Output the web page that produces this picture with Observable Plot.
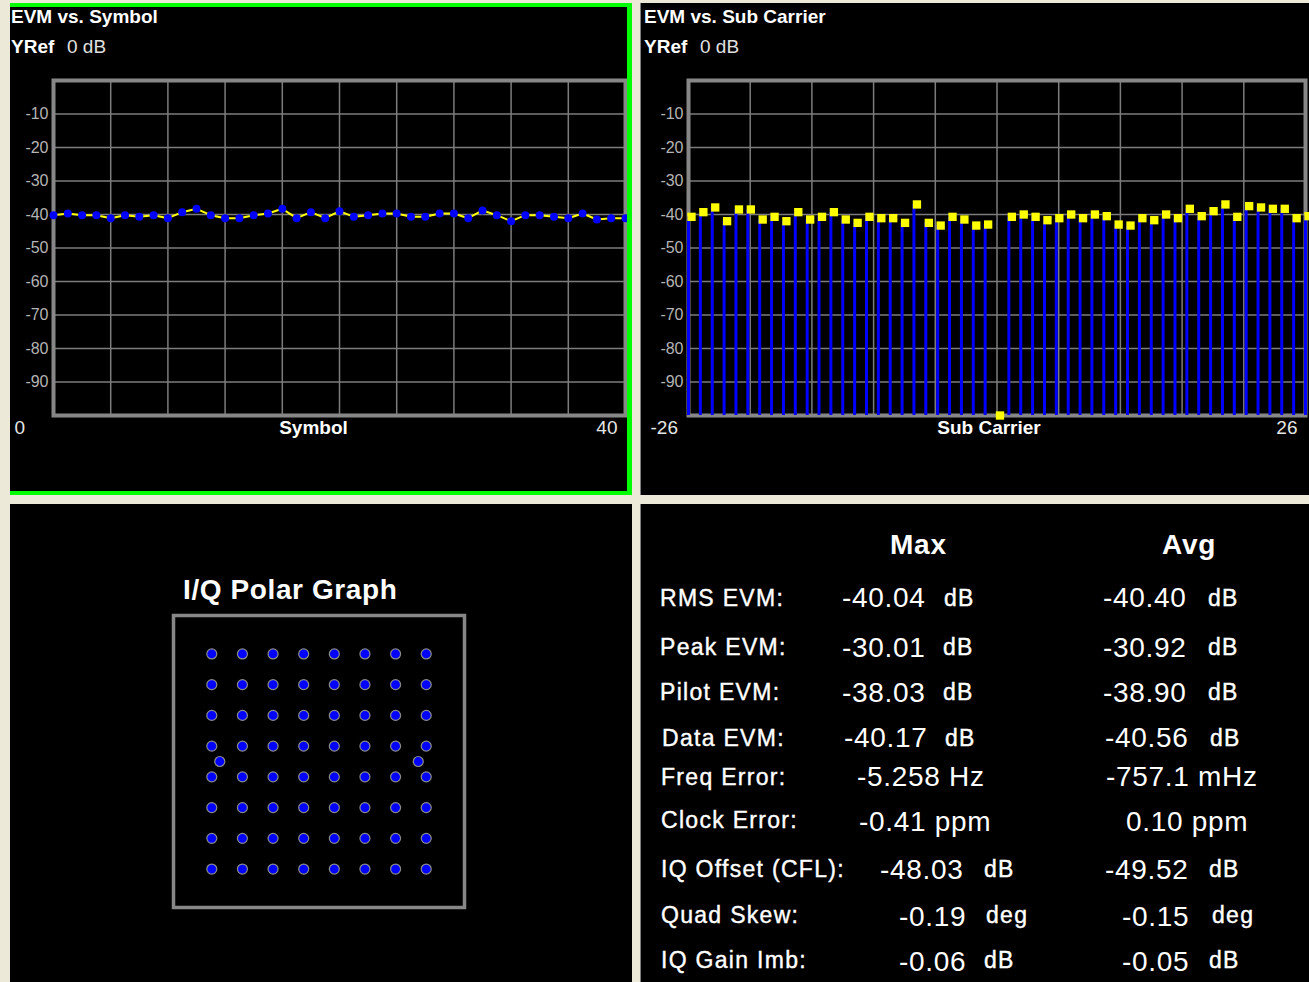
<!DOCTYPE html>
<html><head><meta charset="utf-8">
<script src="https://cdn.jsdelivr.net/npm/d3@7"></script>
<script src="https://cdn.jsdelivr.net/npm/@observablehq/plot@0.6"></script>
<style>
html,body{margin:0;padding:0;background:#ece9d8;width:1309px;height:982px;overflow:hidden;font-family:"Liberation Sans",Arial,sans-serif;}
.panel{position:absolute;background:#000;box-sizing:border-box;}
.abs{position:absolute;white-space:nowrap;color:#fff;}
.chart{position:absolute;}
.chart svg{display:block;}
</style></head><body>
<script>
// ---------- DATA ----------
const symbolIdx = [0,1,2,3,4,5,6,7,8,9,10,11,12,13,14,15,16,17,18,19,20,21,22,23,24,25,26,27,28,29,30,31,32,33,34,35,36,37,38,39,40];
const symbolEvm = [-40.2,-39.7,-40.2,-40.2,-41.1,-40.2,-40.7,-40.2,-41.1,-39.3,-38.3,-40.2,-41.1,-41.1,-40.2,-39.7,-38.3,-41.1,-39.3,-41.1,-39.0,-40.7,-40.2,-39.7,-39.7,-40.7,-40.7,-39.7,-39.7,-41.1,-38.8,-40.2,-42.0,-40.2,-40.2,-40.7,-41.1,-39.7,-41.5,-41.1,-41.1];

const subCarriers = [-26,-25,-24,-23,-22,-21,-20,-19,-18,-17,-16,-15,-14,-13,-12,-11,-10,-9,-8,-7,-6,-5,-4,-3,-2,-1,0,1,2,3,4,5,6,7,8,9,10,11,12,13,14,15,16,17,18,19,20,21,22,23,24,25,26];
const subCarrierEvm = [-40.7,-39.3,-37.9,-42.0,-38.5,-38.5,-41.5,-40.7,-42.0,-39.3,-41.5,-40.7,-39.3,-41.5,-42.5,-40.7,-41.1,-41.1,-42.5,-37.0,-42.5,-43.3,-40.7,-41.5,-43.3,-43.0,
  -100,
  -40.7,-40.0,-40.7,-41.7,-41.1,-40.0,-41.1,-40.0,-40.5,-43.0,-43.3,-41.1,-41.7,-40.0,-41.1,-38.3,-40.5,-39.0,-37.0,-40.7,-37.5,-37.9,-38.3,-38.3,-41.1,-40.5];

const yTicks = [-10,-20,-30,-40,-50,-60,-70,-80,-90];
const symbolGrid = [0,4,8,12,16,20,24,28,32,36,40];
const subGrid = [-26,-20.8,-15.6,-10.4,-5.2,0,5.2,10.4,15.6,20.8,26];

const iqLevels = [-7,-5,-3,-1,1,3,5,7];
const pilotI = [-6.48, 6.48];
const pilotQ = [0, 0];

const tableHeaders = ["Max", "Avg"];
const rowLabels = ["RMS EVM:","Peak EVM:","Pilot EVM:","Data EVM:","Freq Error:","Clock Error:","IQ Offset (CFL):","Quad Skew:","IQ Gain Imb:"];
const maxValues = ["-40.04","-30.01","-38.03","-40.17","-5.258 Hz","-0.41 ppm","-48.03","-0.19","-0.06"];
const maxUnits  = ["dB","dB","dB","dB","","","dB","deg","dB"];
const avgValues = ["-40.40","-30.92","-38.90","-40.56","-757.1 mHz","0.10 ppm","-49.52","-0.15","-0.05"];
const avgUnits  = ["dB","dB","dB","dB","","","dB","deg","dB"];

// ---------- LAYOUT (page px) ----------
const labelBase = [606,655,700,746,785,828,877,923,968];
const valueBase = [608,658,703,748,787,832,880,927,972];
const labelX    = [660,660,660,662,661,661,661,661,661];
const maxValX   = [842,842,842,844,857,859,880,899,899];
const maxUnitX  = [944,943,943,945,0,0,984,986,984];
const avgValX   = [1103,1103,1103,1105,1106,1126,1105,1122,1122];
const avgUnitX  = [1208,1208,1208,1210,0,0,1209,1212,1209];

const FONT = '"Liberation Sans", Arial, sans-serif';
const body = document.body;

function box(cls, css, text) {
  const d = document.createElement("div");
  d.className = cls;
  Object.assign(d.style, css);
  if (text != null) d.textContent = text;
  body.appendChild(d);
  return d;
}
// text placed by baseline (line-height = font-size)
function txt(str, x, base, size, css = {}) {
  const top = base - size * 0.8465;
  return box("abs", Object.assign({left: x + "px", top: top + "px", fontSize: size + "px", lineHeight: size + "px"}, css), str);
}

// panels
box("panel", {left:"10px", top:"3px", width:"622px", height:"492px"});
box("panel", {left:"640px", top:"3px", width:"669px", height:"492px", borderLeft:"1px solid #808080"});
box("panel", {left:"10px", top:"504px", width:"622px", height:"478px"});
box("panel", {left:"640px", top:"504px", width:"669px", height:"478px", borderLeft:"1px solid #808080"});

// EVM plot factory (SVG starts at page y = 60, frame top at y = 80)
function evmPlot({width, marginLeft, marginRight, xDomain, grid, marks, leftLabel, rightLabel, axisLabel, leftDx, rightDx, labelDx}) {
  return Plot.plot({
    width, height: 383,
    marginTop: 20, marginBottom: 28, marginLeft, marginRight,
    style: {background: "transparent", fontFamily: FONT, overflow: "visible"},
    x: {domain: xDomain, axis: null},
    y: {domain: [-100, 0], axis: null},
    marks: [
      Plot.gridX(grid, {stroke: "#7c7c7c", strokeOpacity: 1, strokeWidth: 1.5}),
      Plot.gridY(yTicks, {stroke: "#7c7c7c", strokeOpacity: 1, strokeWidth: 1.5}),
      Plot.axisY(yTicks, {tickSize: 0, tickPadding: 5, fill: "#b4b4b4", fontSize: 16, label: null, tickFormat: d => String(d)}),
      Plot.frame({stroke: "#878787", strokeWidth: 4}),
      ...marks,
      Plot.text([leftLabel], {text: d => d, frameAnchor: "bottom-left", textAnchor: "start", dx: leftDx, dy: 18, fill: "#e6e6e6", fontSize: 19}),
      Plot.text([rightLabel], {text: d => d, frameAnchor: "bottom-right", textAnchor: "end", dx: rightDx, dy: 18, fill: "#e6e6e6", fontSize: 19}),
      Plot.text([axisLabel], {text: d => d, frameAnchor: "bottom", dx: labelDx, dy: 18, fill: "#ffffff", fontSize: 19, fontWeight: "bold"})
    ]
  });
}

const symbolData = symbolIdx.map((s, i) => ({s, v: symbolEvm[i]}));
const subData = subCarriers.map((c, i) => ({c, v: subCarrierEvm[i]}));

const p1 = evmPlot({
  width: 622, marginLeft: 43, marginRight: 7, xDomain: [0, 40], grid: symbolGrid,
  marks: [
    Plot.line(symbolData, {x: "s", y: "v", stroke: "#ffff00", strokeWidth: 2}),
    Plot.dot(symbolData, {x: "s", y: "v", r: 4, fill: "#0000ff"})
  ],
  leftLabel: "0", rightLabel: "40", axisLabel: "Symbol", leftDx: -39, rightDx: -8, labelDx: -26
});
const c1 = box("chart", {left: "10px", top: "60px"});
c1.appendChild(p1);

const p2 = evmPlot({
  width: 668, marginLeft: 47, marginRight: 4, xDomain: [-26, 26], grid: subGrid,
  marks: [
    Plot.ruleX(subData, {x: "c", y1: -100, y2: "v", stroke: "#0000ff", strokeWidth: 3}),
    Plot.dot(subData, {x: "c", y: "v", symbol: "square", r: 4.7, fill: "#ffff00", dx: 3})
  ],
  leftLabel: "-26", rightLabel: "26", axisLabel: "Sub Carrier", leftDx: -38, rightDx: -8, labelDx: -8
});
const c2 = box("chart", {left: "641px", top: "60px"});
c2.appendChild(p2);

// green selection border (top-left panel)
box("panel", {left:"10px", top:"3px", width:"622px", height:"492px", background:"transparent",
  borderTop:"4px solid #00ff00", borderRight:"5px solid #00ff00", borderBottom:"4px solid #00ff00"});

// titles
for (const [x, t] of [[11, "EVM vs. Symbol"], [644, "EVM vs. Sub Carrier"]]) {
  txt(t, x, 23, 19, {fontWeight: "bold"});
  txt("YRef", x, 53, 19, {fontWeight: "bold"});
  txt("0 dB", x + 56, 53, 19, {color: "#e0e0e0"});
}

// I/Q polar graph
txt("I/Q Polar Graph", 183, 600, 28, {fontWeight: "bold", letterSpacing: "0.6px"});
const iqPoints = iqLevels.flatMap(q => iqLevels.map(i => ({i, q})));
const pilots = pilotI.map((i, k) => ({i, q: pilotQ[k]}));
const p3 = Plot.plot({
  width: 295, height: 296, margin: 2,
  style: {background: "transparent", overflow: "visible"},
  x: {domain: [-9.5, 9.5], axis: null},
  y: {domain: [-9.5, 9.5], axis: null},
  marks: [
    Plot.frame({stroke: "#878787", strokeWidth: 3.5}),
    Plot.dot(iqPoints, {x: "i", y: "q", r: 5, fill: "#0000ff", stroke: "#8c8c8c", strokeWidth: 1.2}),
    Plot.dot(pilots, {x: "i", y: "q", r: 5, fill: "#0000ff", stroke: "#8c8c8c", strokeWidth: 1.2})
  ]
});
const c3 = box("chart", {left: "171px", top: "613px"});
c3.appendChild(p3);

// results table
txt(tableHeaders[0], 890, 555, 28, {fontWeight: "bold", letterSpacing: "0.8px"});
txt(tableHeaders[1], 1162, 555, 28, {fontWeight: "bold", letterSpacing: "0.8px"});
const labCss = {letterSpacing: "1.3px", webkitTextStroke: "0.4px #fff"};
const valCss = {letterSpacing: "0.7px"};
rowLabels.forEach((lab, i) => {
  txt(lab, labelX[i], labelBase[i], 23, labCss);
  txt(maxValues[i], maxValX[i], valueBase[i], 28, valCss);
  if (maxUnits[i]) txt(maxUnits[i], maxUnitX[i], labelBase[i], 23, labCss);
  txt(avgValues[i], avgValX[i], valueBase[i], 28, valCss);
  if (avgUnits[i]) txt(avgUnits[i], avgUnitX[i], labelBase[i], 23, labCss);
});
</script>
</body></html>
